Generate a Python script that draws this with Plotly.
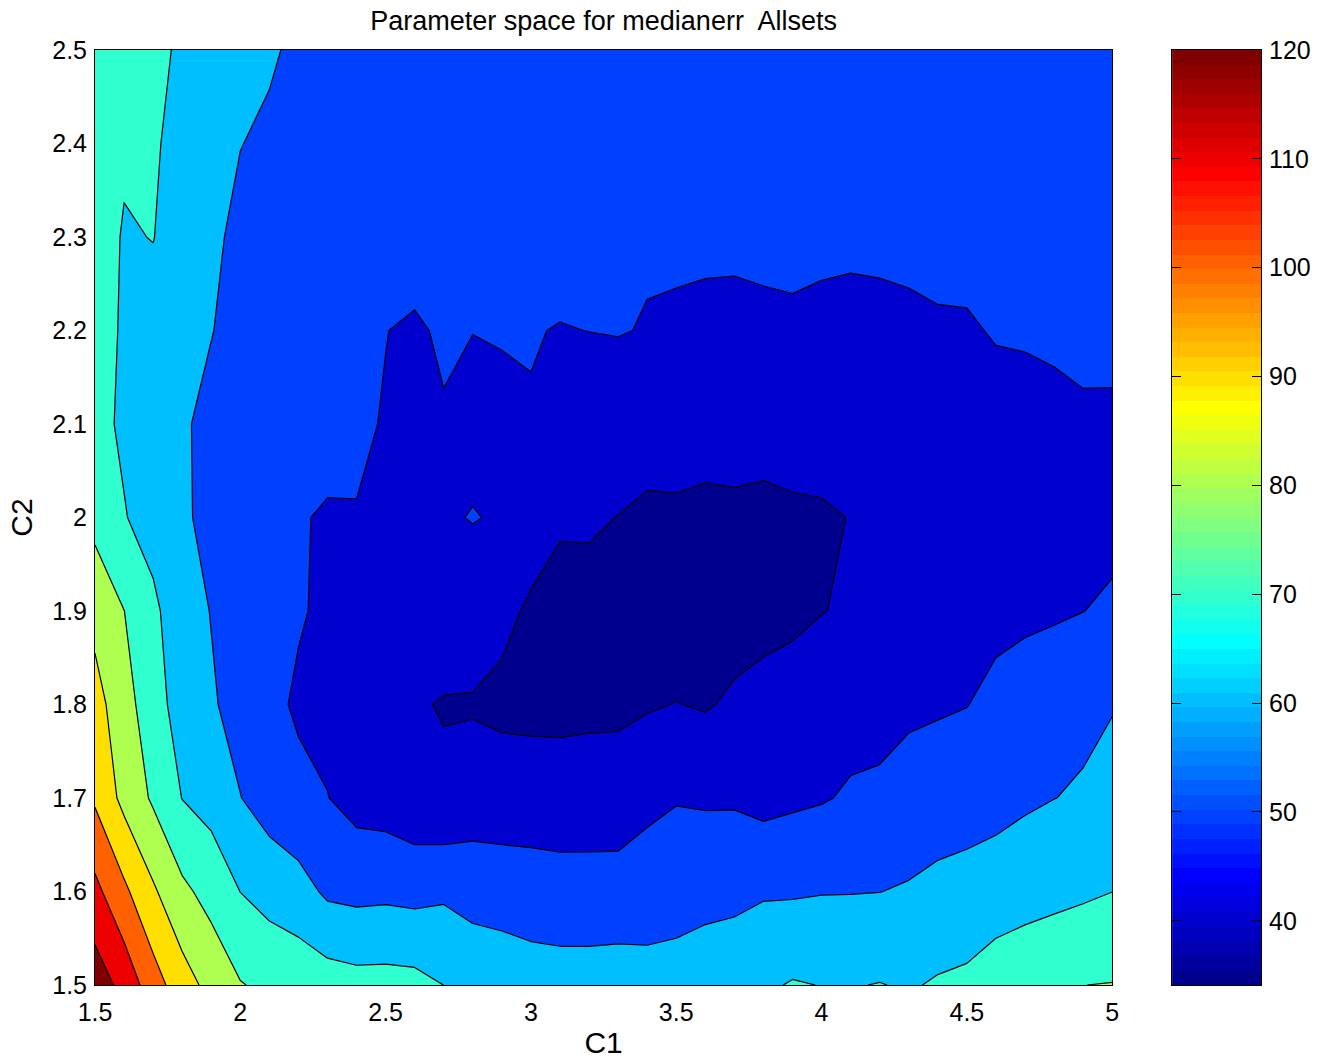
import numpy as np
import plotly.graph_objects as go

# Grid of the parameter sweep
c1_values = [1.5, 1.6, 1.7, 1.8, 1.9, 2.0, 2.1, 2.2, 2.3, 2.4, 2.5, 2.6,
             2.7, 2.8, 2.9, 3.0, 3.1, 3.2, 3.3, 3.4, 3.5, 3.6, 3.7, 3.8,
             3.9, 4.0, 4.1, 4.2, 4.3, 4.4, 4.5, 4.6, 4.7, 4.8, 4.9, 5.0]
c2_values = [1.5, 1.6, 1.7, 1.8, 1.9, 2.0, 2.1, 2.2, 2.3, 2.4, 2.5]

# Median error for each C2 row, listed along C1
err_c2_150 = [125.5, 116.8, 104.4, 94.4, 86.8, 80.5, 78.0, 76.4, 74.7, 73.4, 73.5, 73.0,
              69.95, 67.5, 66.3, 64.6, 64.1, 64.1, 64.4, 63.4, 63.5, 65.3, 66.4, 68.5,
              70.7, 69.8, 69.55, 70.3, 69.1, 71.0, 71.9, 74.1, 75.4, 76.6, 79.95, 80.3]
err_c2_160 = [112.7, 102.0, 91.4, 82.1, 76.6, 69.9, 66.3, 63.9, 58.3, 57.3, 57.8, 57.0,
              58.4, 56.1, 55.4, 54.7, 54.2, 54.2, 54.4, 55.4, 56.5, 57.1, 57.6, 59.0,
              59.0, 59.6, 59.7, 59.9, 60.8, 62.0, 63.7, 65.9, 67.0, 67.9, 68.5, 69.95]
err_c2_170 = [98.6, 87.2, 78.6, 69.8, 66.4, 60.2, 55.6, 52.1, 50.2, 46.6, 45.6, 43.0,
              41.6, 44.8, 44.6, 44.7, 44.2, 44.3, 44.2, 47.5, 49.4, 48.9, 48.9, 47.0,
              48.3, 49.3, 51.0, 52.0, 54.1, 56.0, 55.5, 56.1, 58.4, 59.9, 60.9, 64.0]
err_c2_180 = [94.0, 83.5, 74.8, 65.0, 61.0, 56.8, 52.0, 48.9, 47.7, 45.0, 43.5, 40.8,
              39.5, 39.1, 38.0, 37.6, 37.7, 38.1, 38.3, 39.2, 40.2, 39.2, 41.4, 43.0,
              44.0, 44.5, 46.8, 46.4, 48.2, 48.8, 49.8, 52.3, 54.0, 55.0, 58.1, 59.4]
err_c2_190 = [86.7, 80.1, 72.0, 64.0, 59.7, 56.0, 51.5, 50.7, 48.6, 47.0, 45.0, 43.0,
              44.5, 46.0, 42.1, 38.8, 36.5, 36.0, 35.0, 34.1, 35.0, 35.5, 36.2, 37.1,
              38.1, 39.8, 40.8, 42.5, 44.5, 45.5, 47.0, 47.7, 48.4, 49.1, 49.9, 51.5]
err_c2_200 = [77.2, 70.5, 66.3, 61.5, 57.3, 54.0, 51.5, 50.3, 49.6, 49.8, 47.5, 45.5,
              49.2, 50.3, 49.3, 44.0, 41.2, 41.5, 39.8, 38.0, 38.0, 38.0, 38.5, 38.5,
              39.0, 39.5, 40.1, 41.5, 43.0, 44.0, 45.5, 46.5, 47.0, 47.5, 48.5, 47.2]
err_c2_210 = [72.7, 68.6, 66.0, 61.5, 56.8, 54.0, 52.0, 52.0, 51.5, 50.8, 49.7, 47.5,
              49.5, 47.8, 48.5, 49.7, 46.0, 46.5, 46.5, 44.9, 45.7, 43.4, 43.2, 42.3,
              42.7, 41.9, 42.5, 43.0, 44.0, 45.0, 46.5, 47.5, 48.0, 48.5, 49.2, 49.3]
err_c2_220 = [73.6, 69.0, 67.0, 63.0, 60.4, 56.0, 53.5, 53.0, 54.0, 53.0, 50.1, 49.2,
              50.8, 50.1, 50.4, 50.24, 49.8, 50.05, 50.25, 49.75, 48.5, 47.5, 47.5, 48.0,
              48.5, 47.0, 46.5, 46.5, 48.0, 48.8, 49.3, 50.47, 50.6, 50.95, 51.3, 51.1]
err_c2_230 = [74.3, 69.3, 70.2, 66.0, 61.9, 57.7, 55.5, 54.5, 55.5, 54.5, 53.0, 52.8,
              53.0, 52.5, 52.5, 52.0, 52.0, 52.0, 52.5, 50.5, 51.8, 52.0, 51.8, 52.2,
              52.3, 52.6, 52.2, 52.75, 52.4, 53.1, 52.2, 52.5, 52.5, 53.0, 53.0, 53.0]
err_c2_240 = [75.0, 71.2, 70.8, 67.8, 63.5, 60.2, 58.5, 56.0, 56.5, 55.5, 54.5, 54.0,
              54.0, 53.5, 53.5, 53.0, 53.0, 53.0, 53.5, 52.0, 53.0, 53.5, 53.5, 53.5,
              53.5, 53.5, 53.5, 53.5, 53.5, 54.0, 54.0, 54.0, 54.0, 54.0, 54.0, 54.0]
err_c2_250 = [75.5, 72.0, 71.0, 69.4, 65.0, 61.5, 61.1, 58.3, 57.5, 56.5, 55.5, 55.0,
              55.0, 54.5, 54.5, 54.0, 54.0, 54.0, 54.5, 53.0, 54.0, 54.5, 54.5, 54.5,
              54.5, 54.5, 54.5, 54.5, 54.5, 55.0, 55.0, 55.0, 55.0, 55.0, 55.0, 55.0]

contour_levels = [40, 50, 60, 70, 80, 90, 100, 110, 120]
x_ticks = [1.5, 2.0, 2.5, 3.0, 3.5, 4.0, 4.5, 5.0]
x_tick_text = ["1.5", "2", "2.5", "3", "3.5", "4", "4.5", "5"]
y_ticks = [1.5, 1.6, 1.7, 1.8, 1.9, 2.0, 2.1, 2.2, 2.3, 2.4, 2.5]
y_tick_text = ["1.5", "1.6", "1.7", "1.8", "1.9", "2", "2.1", "2.2", "2.3", "2.4", "2.5"]
cbar_ticks = [40, 50, 60, 70, 80, 90, 100, 110, 120]

z = np.array([err_c2_150, err_c2_160, err_c2_170, err_c2_180, err_c2_190, err_c2_200,
              err_c2_210, err_c2_220, err_c2_230, err_c2_240, err_c2_250])


def jet(m=64):
    """MATLAB-style jet colormap with m entries (rows of r, g, b in 0..1)."""
    n = int(np.ceil(m / 4))
    u = np.concatenate([np.arange(1, n + 1) / n, np.ones(n - 1), np.arange(n, 0, -1) / n])
    g = int(np.ceil(n / 2)) - (1 if m % 4 == 1 else 0) + np.arange(1, len(u) + 1)
    r = g + n
    b = g - n
    cmap = np.zeros((m, 3))
    for ch, idx in enumerate((r, g, b)):
        for i, val in zip(idx, u):
            if 1 <= i <= m:
                cmap[i - 1, ch] = val
    return cmap


def rgb(c):
    return "rgb({},{},{})".format(*[int(round(v * 255)) for v in c])


cmap = jet(64)
cmin = float(z.min())
cmax = float(contour_levels[-1])


def color_index(v):
    k = int(np.floor((v - cmin) / (cmax - cmin) * len(cmap)))
    return min(max(k, 0), len(cmap) - 1)


# Each filled band takes the colour of its lower level; below the first level uses the minimum
band_values = [cmin] + contour_levels
band_colors = [rgb(cmap[color_index(v)]) for v in band_values]
nb = len(band_colors) - 1
contour_scale = [[k / nb, c] for k, c in enumerate(band_colors)]

# Stepped scale for the colour bar strip
bar_scale = []
for i, c in enumerate(cmap):
    bar_scale.append([i / len(cmap), rgb(c)])
    bar_scale.append([(i + 1) / len(cmap), rgb(c)])
edges = np.linspace(cmin, cmax, len(cmap) + 1)
centers = (edges[:-1] + edges[1:]) / 2

fig = go.Figure()
fig.add_trace(go.Contour(
    x=c1_values, y=c2_values, z=z,
    autocontour=False,
    contours=dict(start=contour_levels[0], end=contour_levels[-1],
                  size=contour_levels[1] - contour_levels[0],
                  coloring="fill", showlines=True),
    colorscale=contour_scale,
    line=dict(color="black", width=1.2, smoothing=0),
    showscale=False,
    hoverinfo="skip",
    xaxis="x", yaxis="y",
))
fig.add_trace(go.Heatmap(
    x=[0], y=centers, z=centers.reshape(-1, 1),
    colorscale=bar_scale, zmin=cmin, zmax=cmax,
    showscale=False, hoverinfo="skip",
    xaxis="x2", yaxis="y2",
))

W, H = 1321, 1059
ml, mt, mb = 95, 50, 69
paper_w = 1220
plot_right = 1113
bar_left, bar_right = 1173, 1262

axis_common = dict(showline=True, linecolor="black", linewidth=1, showgrid=False,
                   zeroline=False, ticks="")

fig.update_layout(
    width=W, height=H,
    margin=dict(l=ml, r=0, t=mt, b=mb, pad=0),
    paper_bgcolor="white", plot_bgcolor="white",
    font=dict(family="Liberation Sans, Arial, Helvetica, sans-serif", size=25, color="black"),
    showlegend=False,
    title=dict(text="Parameter space for medianerr  Allsets",
               x=((ml + plot_right) / 2 - ml) / paper_w, xref="paper", xanchor="center",
               y=1 - 21 / H, yref="container", yanchor="middle",
               font=dict(size=27)),
    xaxis=dict(domain=[0, (plot_right - ml) / paper_w], range=[1.5, 5.0],
               tickvals=x_ticks, ticktext=x_tick_text, mirror=True,
               ticklabelstandoff=5,
               title=dict(text="C1", standoff=12), **axis_common),
    yaxis=dict(domain=[0, 1], range=[1.5, 2.5], tickvals=y_ticks, ticktext=y_tick_text,
               mirror=True, ticklabelstandoff=2,
               title=dict(text="C2", standoff=10), **axis_common),
    xaxis2=dict(domain=[(bar_left - ml) / paper_w, (bar_right - ml) / paper_w],
                range=[-0.5, 0.5], anchor="y2", mirror=True, showticklabels=False,
                **axis_common),
    yaxis2=dict(domain=[0, 1], range=[cmin, cmax], anchor="x2", side="right",
                tickvals=cbar_ticks, ticktext=[str(t) for t in cbar_ticks],
                showline=True, linecolor="black", linewidth=1, showgrid=False,
                zeroline=False, ticks="inside", ticklen=9, tickcolor="black",
                mirror="ticks", ticklabelstandoff=2),
)

fig.write_html("out.html")
